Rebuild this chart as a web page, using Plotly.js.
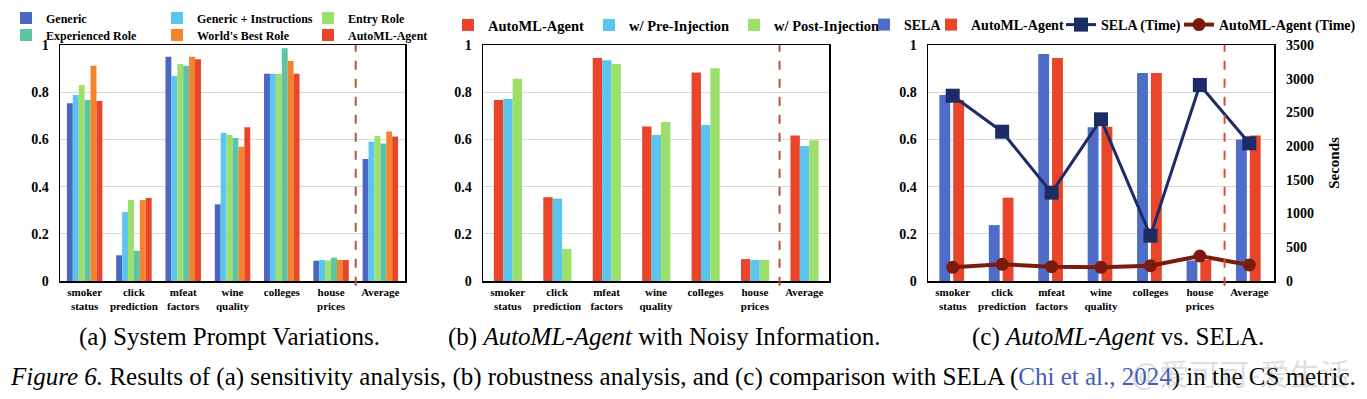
<!DOCTYPE html>
<html><head><meta charset="utf-8">
<script src="https://cdn.plot.ly/plotly-3.0.1.min.js"></script>
<style>html,body{margin:0;padding:0;background:#fff}</style>
</head><body><div id="chart" style="width:1367px;height:399px"></div>
<script>
// ---------- data ----------
const categories = ["smoker<br>status","click<br>prediction","mfeat<br>factors","wine<br>quality","colleges","house<br>prices","Average"];

// (a) System prompt variations
const promptSeries = ["Generic","Generic + Instructions","Entry Role","Experienced Role","World's Best Role","AutoML-Agent"];
const genericVals      = [0.753,0.109,0.950,0.325,0.878,0.086,0.517];
const genericInstrVals = [0.788,0.292,0.869,0.628,0.878,0.089,0.590];
const entryRoleVals    = [0.830,0.343,0.919,0.619,0.878,0.087,0.614];
const experiencedVals  = [0.767,0.128,0.912,0.606,0.986,0.099,0.583];
const worldBestVals    = [0.912,0.343,0.950,0.569,0.932,0.089,0.633];
const automlPromptVals = [0.763,0.352,0.940,0.652,0.878,0.089,0.612];

// (b) Noisy information
const noisySeries   = ["AutoML-Agent","w/ Pre-Injection","w/ Post-Injection"];
const noisyAutoml   = [0.767,0.355,0.945,0.655,0.884,0.093,0.616];
const preInjection  = [0.771,0.349,0.935,0.619,0.661,0.089,0.572];
const postInjection = [0.857,0.136,0.919,0.674,0.901,0.089,0.596];

// (c) AutoML-Agent vs SELA
const selaSeries  = ["SELA","AutoML-Agent","SELA (Time)","AutoML-Agent (Time)"];
const selaScore   = [0.788,0.237,0.962,0.652,0.881,0.087,0.600];
const automlScore = [0.767,0.353,0.945,0.654,0.881,0.089,0.616];
const selaTime    = [2748,2214,1310,2398,672,2907,2042];
const automlTime  = [203,247,212,203,227,371,237];

// ---------- styling ----------
const W = 1367, H = 399;
const px = v => v / W;
const py = v => 1 - v / H;
const SERIF = "Liberation Serif, Times New Roman, serif";
const boldFont = (s) => ({family: SERIF, size: s, color: "#000", weight: "bold"});

const colA = ["#4A67C4","#5BC5EE","#9CE06B","#5CC3A5","#F5822C","#E8452B"];
const colB = ["#E8452B","#5BC5EE","#9CE06B"];
const colC = {sela:"#4F6DC8", auto:"#E8452B", selaT:"#1E2C66", autoT:"#7B1A0E"};

const aVals = [genericVals, genericInstrVals, entryRoleVals, experiencedVals, worldBestVals, automlPromptVals];
const bVals = [noisyAutoml, preInjection, postInjection];

const traces = [];
aVals.forEach((vals, i) => {
  traces.push({type:"bar", x:categories, y:vals, name:promptSeries[i], xaxis:"x", yaxis:"y",
    marker:{color:colA[i]}, width:0.12, offset:-0.36 + i*0.12,
    legend: i < 3 ? "legend" : "legend2"});
});
bVals.forEach((vals, i) => {
  traces.push({type:"bar", x:categories, y:vals, name:noisySeries[i], xaxis:"x2", yaxis:"y2",
    marker:{color:colB[i]}, width:0.19, offset:-0.28 + i*0.19, legend:"legend3"});
});
traces.push({type:"bar", x:categories, y:selaScore, name:selaSeries[0], xaxis:"x3", yaxis:"y3",
  marker:{color:colC.sela}, width:0.22, offset:-0.27, legend:"legend4"});
traces.push({type:"bar", x:categories, y:automlScore, name:selaSeries[1], xaxis:"x3", yaxis:"y3",
  marker:{color:colC.auto}, width:0.22, offset:0.01, legend:"legend5"});
traces.push({type:"scatter", mode:"lines+markers", x:categories, y:selaTime, name:selaSeries[2],
  xaxis:"x3", yaxis:"y4", line:{color:colC.selaT, width:3},
  marker:{symbol:"square", size:14, color:colC.selaT}, legend:"legend6"});
traces.push({type:"scatter", mode:"lines+markers", x:categories, y:automlTime, name:selaSeries[3],
  xaxis:"x3", yaxis:"y4", line:{color:colC.autoT, width:4},
  marker:{symbol:"circle", size:13, color:colC.autoT}, legend:"legend7"});

const yDom = [py(281), py(45)];
function xax(dom, anchor){
  return {domain:[px(dom[0]), px(dom[1])], anchor:anchor, type:"category", range:[-0.5,6.5],
    showline:true, mirror:true, linecolor:"#000", linewidth:1.5, ticks:"", showgrid:false,
    tickfont:boldFont(11), automargin:false, fixedrange:true};
}
function yax(anchor){
  return {domain:yDom, anchor:anchor, range:[0,1], dtick:0.2, showgrid:true, gridcolor:"#d9d9d9",
    gridwidth:1, zeroline:false, showline:true, mirror:true, linecolor:"#000", linewidth:1.5,
    ticks:"", tickfont:boldFont(14), ticklabelstandoff:7, automargin:false, fixedrange:true};
}
function leg(x, y, size, ew){
  const o = {orientation:"h", x:px(x), y:py(y), xanchor:"left", yanchor:"middle",
    bgcolor:"rgba(0,0,0,0)", borderwidth:0, font:boldFont(size), traceorder:"normal"};
  if (ew) { o.entrywidth = ew; o.entrywidthmode = "pixels"; }
  return o;
}
const cap = (text, x, y, size) => ({text:text, x:px(x), y:py(y), xref:"paper", yref:"paper",
  xanchor:"center", yanchor:"middle", showarrow:false, font:{family:SERIF, size:size, color:"#000"}});

const layout = {
  width:W, height:H, margin:{l:0,r:0,t:0,b:0}, paper_bgcolor:"#fff", plot_bgcolor:"#fff",
  barmode:"overlay", showlegend:true,
  xaxis: xax([60,405],"y"), yaxis: yax("x"),
  xaxis2: xax([483,829],"y2"), yaxis2: yax("x2"),
  xaxis3: xax([928,1274],"y3"), yaxis3: yax("x3"),
  yaxis4: {domain:yDom, anchor:"x3", overlaying:"y3", side:"right", range:[0,3500], dtick:500,
    showgrid:false, zeroline:false, showline:false, ticks:"", tickfont:boldFont(14),
    ticklabelstandoff:11, automargin:false, fixedrange:true,
    title:{text:"Seconds", font:boldFont(15), standoff:15}},
  legend: leg(6,18,12,106), legend2: leg(6,35,12,106),
  legend3: leg(448,25,14.5),
  legend4: leg(864,25,14), legend5: leg(931,25,14), legend6: leg(1061,25,14), legend7: leg(1179,25,14),
  shapes: [
    {type:"line", xref:"x", yref:"y domain", x0:5.5, x1:5.5, y0:-0.02, y1:1,
     line:{color:"#B5533F", width:2, dash:"dash"}},
    {type:"line", xref:"x2", yref:"y2 domain", x0:5.5, x1:5.5, y0:-0.02, y1:1,
     line:{color:"#B5533F", width:2, dash:"dash"}},
    {type:"line", xref:"x3", yref:"y3 domain", x0:5.5, x1:5.5, y0:-0.02, y1:1,
     line:{color:"#E04A3C", width:2, dash:"dash"}}
  ],
  annotations: [
    cap("(a) System Prompt Variations.", 229, 337, 25),
    cap("(b) <i>AutoML-Agent</i> with Noisy Information.", 664, 337, 25),
    cap("(c) <i>AutoML-Agent</i> vs. SELA.", 1118, 337, 25),
    cap("<i>Figure 6.</i> Results of (a) sensitivity analysis, (b) robustness analysis, and (c) comparison with SELA (<span style='color:#3F5DB8'>Chi et al., 2024</span>) in the CS metric.", 683, 377, 25),
    {text:"@爱可可-爱生活", x:px(1240), y:py(372), xref:"paper", yref:"paper", xanchor:"center",
     yanchor:"middle", showarrow:false,
     font:{family:"Noto Sans CJK SC", size:30, color:"rgba(140,140,140,0.3)"}}
  ]
};

Plotly.newPlot("chart", traces, layout, {displayModeBar:false, staticPlot:true});
</script>
</body></html>
